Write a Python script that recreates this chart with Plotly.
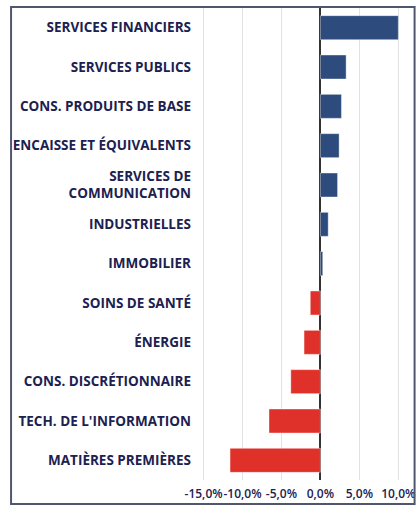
import plotly.graph_objects as go

categories = [
    "SERVICES FINANCIERS",
    "SERVICES PUBLICS",
    "CONS. PRODUITS DE BASE",
    "ENCAISSE ET ÉQUIVALENTS",
    "SERVICES DE<br>COMMUNICATION",
    "INDUSTRIELLES",
    "IMMOBILIER",
    "SOINS DE SANTÉ",
    "ÉNERGIE",
    "CONS. DISCRÉTIONNAIRE",
    "TECH. DE L'INFORMATION",
    "MATIÈRES PREMIÈRES",
]
values = [10.0, 3.3, 2.7, 2.4, 2.2, 1.0, 0.3, -1.3, -2.1, -3.8, -6.6, -11.6]
tick_vals = [-15, -10, -5, 0, 5, 10]
tick_text = ["-15,0%", "-10,0%", "-5,0%", "0,0%", "5,0%", "10,0%"]

BLUE = "#2d4b7c"
RED = "#e0302a"
NAVY = "#1c2150"

colors = [BLUE if v >= 0 else RED for v in values]

fig = go.Figure(
    go.Bar(
        x=values,
        y=categories,
        orientation="h",
        marker=dict(color=colors, line=dict(color="rgba(255,255,255,0.4)", width=1)),
        hoverinfo="x+y",
    )
)

fig.update_layout(
    width=417,
    height=506,
    margin=dict(l=202, r=7, t=8, b=26, autoexpand=False),
    paper_bgcolor="white",
    plot_bgcolor="white",
    bargap=0.39,
    showlegend=False,
    font=dict(family="Open Sans", color=NAVY),
    shapes=[
        dict(
            type="rect", xref="paper", yref="paper",
            x0=-0.918, x1=1.022, y0=-0.0508, y1=1.002,
            line=dict(color="#50566e", width=2), fillcolor="rgba(0,0,0,0)",
            layer="above",
        )
    ],
)

fig.update_xaxes(
    range=[-15.2, 11.5],
    tickvals=tick_vals,
    ticktext=tick_text,
    tickangle=0,
    showgrid=True,
    gridcolor="#e2e2e2",
    gridwidth=1,
    zeroline=True,
    zerolinecolor="#333333",
    zerolinewidth=2,
    showline=False,
    ticks="",
    ticklabelstandoff=5,
    tickfont=dict(family="Open Sans", size=12, color=NAVY, weight=600),
    automargin=False,
    fixedrange=True,
)

fig.update_yaxes(
    categoryorder="array",
    categoryarray=categories[::-1],
    autorange=True,
    showgrid=False,
    showline=False,
    ticks="",
    ticklabelstandoff=10,
    tickfont=dict(family="Open Sans", size=13.5, color=NAVY, weight="bold"),
    automargin=False,
    fixedrange=True,
)

fig.write_html(
    "out.html",
    config={"displayModeBar": False},
    post_script="document.body.style.margin='0';document.body.style.overflow='hidden';",
)
